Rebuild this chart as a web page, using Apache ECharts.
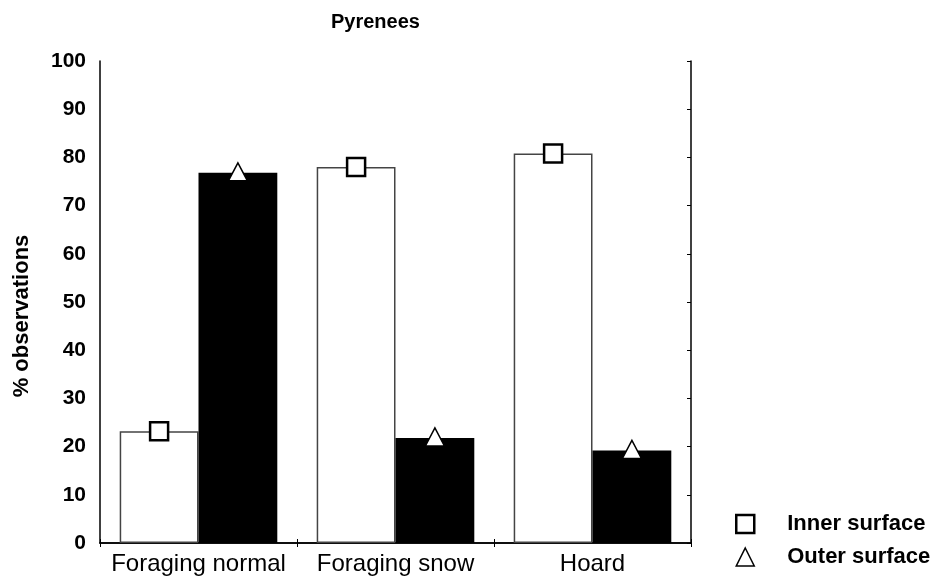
<!DOCTYPE html>
<html>
<head>
<meta charset="utf-8">
<script src="https://cdn.jsdelivr.net/npm/echarts@6/dist/echarts.min.js"></script>
<style>
  html, body { margin: 0; padding: 0; background: #fff; }
  #chart { width: 935px; height: 579px; }
</style>
</head>
<body>
<div id="chart"></div>
<script>
// Share of observations on each surface, by activity
const categories = ['Foraging normal', 'Foraging snow', 'Hoard'];
const innerSurface = [23.2, 78.0, 80.8];
const outerSurface = [76.8, 21.8, 19.2];
const yTicks = [0, 10, 20, 30, 40, 50, 60, 70, 80, 90, 100];

const FONT = 'Liberation Sans, Arial, Helvetica, sans-serif';

// Marker drawn at the top centre of a bar; offset is a fraction of the category band
function markerRenderer(kind, offset) {
  return function (params, api) {
    const p = api.coord([api.value(0), api.value(1)]);
    const band = api.size([1, 0])[0];
    const x = p[0] + offset * band;
    const y = p[1];
    if (kind === 'square') {
      const s = 18;
      return {
        type: 'rect',
        shape: { x: x - s / 2, y: y - s / 2, width: s, height: s },
        style: { fill: '#fff', stroke: '#000', lineWidth: 2.5 }
      };
    }
    const w = 19, h = 18;
    return {
      type: 'polygon',
      shape: { points: [[x, y - h / 2 - 1], [x + w / 2, y + h / 2 - 1], [x - w / 2, y + h / 2 - 1]] },
      style: { fill: '#fff', stroke: '#000', lineWidth: 1.5 }
    };
  };
}

const chart = echarts.init(document.getElementById('chart'), null, { renderer: 'canvas' });

chart.setOption({
  animation: false,
  backgroundColor: '#fff',
  textStyle: { fontFamily: FONT },
  title: {
    text: 'Pyrenees',
    left: 331,
    top: 12,
    padding: 0,
    textStyle: { fontFamily: FONT, fontSize: 20, fontWeight: 'bold', color: '#000' }
  },
  legend: {
    orient: 'vertical',
    left: 735,
    top: 513,
    padding: 0,
    itemWidth: 18,
    itemHeight: 18,
    itemGap: 11,
    selectedMode: false,
    textStyle: {
      fontFamily: FONT, fontSize: 22, fontWeight: 'bold', color: '#000',
      lineHeight: 22, padding: [0, 0, 0, 28]
    },
    data: [
      { name: 'Inner surface', icon: 'rect',
        itemStyle: { color: '#fff', borderColor: '#000', borderWidth: 2.5 } },
      { name: 'Outer surface', icon: 'triangle',
        itemStyle: { color: '#fff', borderColor: '#000', borderWidth: 1.5 } }
    ]
  },
  grid: { left: 100, right: 244, top: 61, bottom: 36, containLabel: false },
  xAxis: [
    {
      type: 'category',
      data: categories,
      position: 'bottom',
      axisLine: { show: true, lineStyle: { color: '#000', width: 1.5 } },
      axisTick: { show: true, inside: true, length: 4, lineStyle: { color: '#000', width: 1 } },
      axisLabel: { interval: 0, fontFamily: FONT, fontSize: 24, color: '#000', margin: 9 },
      splitLine: { show: false }
    },
    {
      type: 'category',
      data: categories,
      position: 'top',
      axisLine: { show: true, lineStyle: { color: '#000', width: 1.5 } },
      axisTick: { show: true, inside: true, length: 4, lineStyle: { color: '#000', width: 1 } },
      axisLabel: { show: false },
      splitLine: { show: false }
    }
  ],
  yAxis: [
    {
      type: 'value',
      min: yTicks[0],
      max: yTicks[yTicks.length - 1],
      interval: yTicks[1] - yTicks[0],
      position: 'left',
      name: '% observations',
      nameLocation: 'middle',
      nameGap: 67,
      nameTextStyle: { fontFamily: FONT, fontSize: 22, fontWeight: 'bold', color: '#000', padding: [0, 28, 0, 0] },
      axisLine: { show: true, lineStyle: { color: '#000', width: 1.5 } },
      axisTick: { show: false },
      axisLabel: { fontFamily: FONT, fontSize: 21, fontWeight: 'bold', color: '#000', margin: 14 },
      splitLine: { show: false }
    },
    {
      type: 'value',
      min: yTicks[0],
      max: yTicks[yTicks.length - 1],
      interval: yTicks[1] - yTicks[0],
      position: 'right',
      axisLine: { show: true, lineStyle: { color: '#000', width: 1.5 } },
      axisTick: { show: true, inside: true, length: 4, lineStyle: { color: '#000', width: 1 } },
      axisLabel: { show: false },
      splitLine: { show: false }
    }
  ],
  series: [
    {
      name: 'inner bars',
      type: 'bar',
      data: innerSurface,
      barGap: '0%',
      barCategoryGap: '20%',
      itemStyle: { color: '#fff', borderColor: '#444', borderWidth: 1.5 },
      z: 2
    },
    {
      name: 'outer bars',
      type: 'bar',
      data: outerSurface,
      barGap: '0%',
      barCategoryGap: '20%',
      itemStyle: { color: '#000', borderColor: '#000', borderWidth: 0 },
      z: 2
    },
    {
      name: 'Inner surface',
      type: 'custom',
      renderItem: markerRenderer('square', -0.2),
      data: innerSurface.map((v, i) => [i, v]),
      encode: { x: 0, y: 1 },
      clip: false,
      z: 5
    },
    {
      name: 'Outer surface',
      type: 'custom',
      renderItem: markerRenderer('triangle', 0.2),
      data: outerSurface.map((v, i) => [i, v]),
      encode: { x: 0, y: 1 },
      clip: false,
      z: 5
    }
  ]
});
</script>
</body>
</html>
